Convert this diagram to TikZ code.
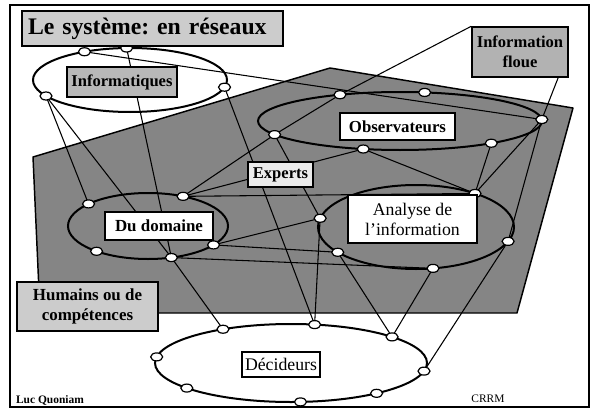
\documentclass[tikz,border=0pt]{standalone}
\usepackage{fontspec}
\setmainfont{Liberation Serif}
\usetikzlibrary{shapes.geometric}
\pgfdeclarelayer{back}
\pgfdeclarelayer{wires}
\pgfsetlayers{back,wires,main}
\definecolor{planegray}{gray}{0.52}
\definecolor{titlegray}{gray}{0.80}
\definecolor{infogray}{gray}{0.72}
\definecolor{flouegray}{gray}{0.70}
\definecolor{humgray}{gray}{0.80}
\definecolor{expgray}{gray}{0.92}
\frenchspacing
\begin{document}
\begin{tikzpicture}[x=0.75pt,y=-0.75pt,
  lbl/.style={draw=black, line width=1.1pt, inner sep=0pt, align=center},
  boldlbl/.style={lbl, font=\fontsize{12.4pt}{15pt}\selectfont\bfseries},
  reglbl/.style={lbl, font=\fontsize{13.3pt}{15pt}\selectfont},
  dot/.style={ellipse, draw=black, fill=white, line width=0.9pt, minimum width=9pt, minimum height=6pt, inner sep=0pt},
  wire/.style={line width=0.8pt, line join=round},
  ring/.style={line width=1.5pt},
  foot/.style={font=\fontsize{8.6pt}{10pt}\selectfont, inner sep=0pt}]
\useasboundingbox (0,0) rectangle (592,410);

% frame and plane
\begin{pgfonlayer}{back}
  \fill[white] (0,0) rectangle (592,410);
  \draw[line width=1.5pt] (10,5) rectangle (589,407);
  \filldraw[fill=planegray, draw=black, line width=1.1pt, line join=round]
    (33,157) -- (330,68) -- (573,108) -- (517,313) -- (40,313) -- cycle;
\end{pgfonlayer}

% ellipse centres
\coordinate (cI) at (130,80);
\coordinate (cO) at (400,121);
\coordinate (cM) at (148,226);
\coordinate (cA) at (416,227);
\coordinate (cD) at (291,363);

% small nodes on the ellipses
\path (cI) ++(150:97 and 32) node[dot] (I1) {};
\path (cI) ++(242:97 and 32) node[dot] (I2) {};
\path (cI) ++(268:97 and 32) node[dot] (I3) {};
\path (cI) ++(13:97 and 32) node[dot] (I4) {};

\path (cO) ++(152:142 and 29) node[dot] (O1) {};
\path (cO) ++(245:142 and 29) node[dot] (O2) {};
\path (cO) ++(280:142 and 29) node[dot] (O3) {};
\path (cO) ++(357:142 and 29) node[dot] (O4) {};
\path (cO) ++(50:142 and 29) node[dot] (O5) {};
\path (cO) ++(105:142 and 29) node[dot] (O6) {};

\path (cM) ++(222:80 and 33) node[dot] (M1) {};
\path (cM) ++(296:80 and 33) node[dot] (M2) {};
\path (cM) ++(35:80 and 33) node[dot] (M3) {};
\path (cM) ++(73:80 and 33) node[dot] (M4) {};
\path (cM) ++(130:80 and 33) node[dot] (M5) {};

\path (cA) ++(192:98 and 42) node[dot] (A1) {};
\path (cA) ++(143:98 and 42) node[dot] (A2) {};
\path (cA) ++(80:98 and 42) node[dot] (A3) {};
\path (cA) ++(20:98 and 42) node[dot] (A4) {};
\path (cA) ++(307:98 and 42) node[dot] (A5) {};

\path (cD) ++(240:136 and 39) node[dot] (D1) {};
\path (cD) ++(280:136 and 39) node[dot] (D2) {};
\path (cD) ++(318:136 and 39) node[dot] (D3) {};
\path (cD) ++(12:136 and 39) node[dot] (D4) {};
\path (cD) ++(51:136 and 39) node[dot] (D5) {};
\path (cD) ++(86:136 and 39) node[dot] (D6) {};
\path (cD) ++(140:136 and 39) node[dot] (D7) {};
\path (cD) ++(189:136 and 39) node[dot] (D8) {};

% labels
\node[lbl, fill=titlegray, minimum width=195.75pt, minimum height=26.25pt,
      text width=186.75pt, align=left, font=\fontsize{17.8pt}{20pt}\selectfont\bfseries]
      (title) at (152.5,28.5) {Le système: en réseaux};
\node[boldlbl, fill=infogray, minimum width=82.5pt, minimum height=22.5pt] (inf) at (122,82) {Informatiques};
\node[boldlbl, fill=flouegray, minimum width=72pt, minimum height=37.5pt] (IF) at (520,52) {Information\\floue};
\node[boldlbl, fill=white, font=\fontsize{12.6pt}{15pt}\selectfont\bfseries, minimum width=86.25pt, minimum height=20.25pt] (obs) at (397.5,126.5) {Observateurs};
\node[boldlbl, fill=expgray, minimum width=48.75pt, minimum height=18.75pt] (exp) at (280.5,174.5) {Experts};
\node[boldlbl, fill=white, font=\fontsize{12.7pt}{15pt}\selectfont\bfseries, minimum width=81pt, minimum height=21pt] (dom) at (159,226) {Du domaine};
\node[reglbl, fill=white, minimum width=96.75pt, minimum height=36pt] (ana) at (412.5,219) {Analyse de\\l'information};
\node[reglbl, fill=white, minimum width=58.5pt, minimum height=18.75pt] (dec) at (281,364.5) {Décideurs};
\node[boldlbl, fill=humgray, font=\fontsize{12.7pt}{15pt}\selectfont\bfseries, minimum width=105.75pt, minimum height=36.75pt] (hum) at (87.5,306.5) {Humains ou de\\compétences};

\node[foot, font=\fontsize{8.6pt}{10pt}\selectfont\bfseries] (luc) at (50,400) {Luc Quoniam};
\node[foot] (crrm) at (488,399) {CRRM};

% ellipses and connectors
\begin{pgfonlayer}{wires}
  \draw[ring] (cI) ellipse [x radius=72.75pt, y radius=24pt];
  \draw[ring] (cO) ellipse [x radius=106.5pt, y radius=21.75pt];
  \draw[ring] (cM) ellipse [x radius=60pt, y radius=24.75pt];
  \draw[ring] (cA) ellipse [x radius=73.5pt, y radius=31.5pt];
  \draw[ring] (cD) ellipse [x radius=102pt, y radius=29.25pt];

  \draw[wire] (I1.center) -- (M1.center);
  \draw[wire] (I1.center) -- (M4.center);
  \draw[wire] (I3.center) -- (M4.center);
  \draw[wire] (M4.center) -- (D1.center);
  \draw[wire] (I4.center) -- (D2.center);
  \draw[wire] (I2.center) -- (O4.center);
  \draw[wire] (IF.north west) -- (O2.center);
  \draw[wire] (O2.center) -- (O1.center);
  \draw[wire] (O1.center) -- (M2.center);
  \draw[wire] (IF.326) -- (O4.center);
  \draw[wire] (O4.center) -- (A5.center);
  \draw[wire] (O4.center) -- (A4.center);
  \draw[wire] (O5.center) -- (A5.center);
  \draw[wire] (O6.center) -- (M2.center);
  \draw[wire] (O6.center) -- (A5.center);
  \draw[wire] (O1.center) -- (A1.center);
  \draw[wire] (M2.center) -- (A5.center);
  \draw[wire] (M3.center) -- (A1.center);
  \draw[wire] (M3.center) -- (A2.center);
  \draw[wire] (M4.center) -- (A3.center);
  \draw[wire] (A1.center) -- (D2.center);
  \draw[wire] (A2.center) -- (D3.center);
  \draw[wire] (A3.center) -- (D3.center);
  \draw[wire] (A4.center) -- (D4.center);
\end{pgfonlayer}
\end{tikzpicture}
\end{document}
